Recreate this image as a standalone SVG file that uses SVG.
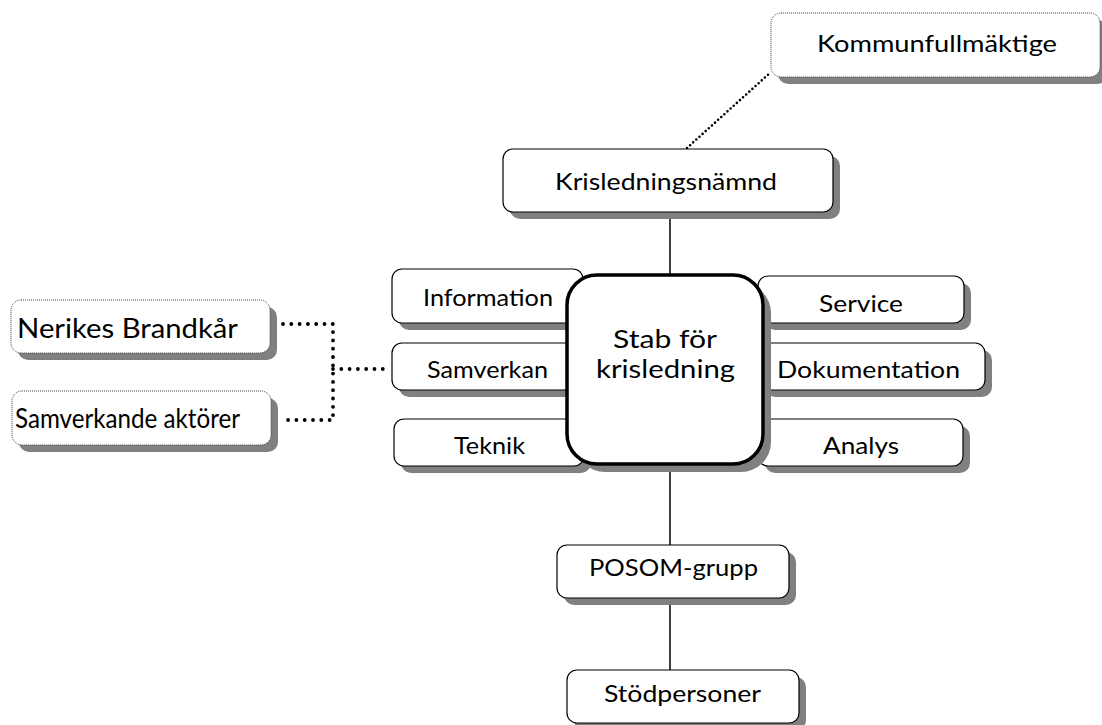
<svg xmlns="http://www.w3.org/2000/svg" width="1102" height="725" viewBox="0 0 1102 725">
<style>
.box{fill:#fff;stroke:#000;stroke-width:1.2}
.dbox{fill:#fff;stroke:#444;stroke-width:1;stroke-dasharray:1 1}
.sh{fill:#808080}
.big{fill:#fff;stroke:#000;stroke-width:3.5}
.t{font-family:Lato,"Open Sans",sans-serif;font-size:24px;fill:#000;text-anchor:middle}
.tb{font-family:Lato,"Open Sans",sans-serif;font-size:27px;fill:#000;text-anchor:middle}
.ts{font-family:Lato,"Open Sans",sans-serif;font-size:25px;fill:#000;text-anchor:middle}
.solid{stroke:#000;stroke-width:1.5;fill:none}
.dots{stroke:#000;stroke-width:3.8;fill:none;stroke-linecap:round;stroke-dasharray:0 8.3}
.fdots{stroke:#000;stroke-width:2.6;fill:none;stroke-linecap:round;stroke-dasharray:0 4.2}
</style>
<rect width="1102" height="725" fill="#fff"/>
<g id="connectors">
<line class="solid" x1="670" y1="212" x2="670" y2="276"/>
<line class="solid" x1="670" y1="463" x2="670" y2="545"/>
<line class="solid" x1="670" y1="598" x2="670" y2="670"/>
<line class="fdots" x1="687" y1="148" x2="771" y2="72"/>
<polyline class="dots" points="283,324 333,324 333,420 283,420"/>
<line class="dots" x1="333" y1="369" x2="391" y2="369"/>
</g>
<g id="kommunfullmaktige">
<rect class="sh" x="778" y="20" width="329" height="64" rx="10"/>
<rect class="dbox" x="771" y="13" width="329" height="64" rx="10"/>
<text class="t" x="937" y="52" textLength="240" lengthAdjust="spacingAndGlyphs">Kommunfullmäktige</text>
</g>
<g id="krisledningsnamnd">
<rect class="sh" x="510" y="156" width="330" height="63" rx="10"/>
<rect class="box" x="503" y="149" width="330" height="63" rx="10"/>
<text class="t" x="666" y="190" textLength="222" lengthAdjust="spacingAndGlyphs">Krisledningsnämnd</text>
</g>
<g id="nerikes">
<rect class="sh" x="18" y="307" width="259" height="53" rx="10"/>
<rect class="dbox" x="11" y="300" width="259" height="53" rx="10"/>
<text class="tb" x="127.5" y="338" textLength="221" lengthAdjust="spacingAndGlyphs">Nerikes Brandkår</text>
</g>
<g id="samverkande">
<rect class="sh" x="19" y="398" width="259" height="54" rx="10"/>
<rect class="dbox" x="12" y="391" width="259" height="54" rx="10"/>
<text class="tb" x="127.5" y="428" textLength="225" lengthAdjust="spacingAndGlyphs">Samverkande aktörer</text>
</g>
<g id="information">
<rect class="sh" x="399" y="276" width="191" height="54" rx="10"/>
<rect class="box" x="392" y="269" width="191" height="54" rx="10"/>
<text class="t" x="488" y="306" textLength="130" lengthAdjust="spacingAndGlyphs">Information</text>
</g>
<g id="samverkan">
<rect class="sh" x="399" y="350" width="190" height="47" rx="10"/>
<rect class="box" x="392" y="343" width="190" height="47" rx="10"/>
<text class="t" x="487.5" y="378" textLength="121" lengthAdjust="spacingAndGlyphs">Samverkan</text>
</g>
<g id="teknik">
<rect class="sh" x="401" y="426" width="190" height="47" rx="10"/>
<rect class="box" x="394" y="419" width="190" height="47" rx="10"/>
<text class="t" x="489.5" y="454" textLength="71" lengthAdjust="spacingAndGlyphs">Teknik</text>
</g>
<g id="service">
<rect class="sh" x="765" y="283" width="206" height="47" rx="10"/>
<rect class="box" x="758" y="276" width="206" height="47" rx="10"/>
<text class="t" x="861" y="312" textLength="84" lengthAdjust="spacingAndGlyphs">Service</text>
</g>
<g id="dokumentation">
<rect class="sh" x="765" y="350" width="227" height="47" rx="10"/>
<rect class="box" x="758" y="343" width="227" height="47" rx="10"/>
<text class="t" x="868.5" y="378" textLength="183" lengthAdjust="spacingAndGlyphs">Dokumentation</text>
</g>
<g id="analys">
<rect class="sh" x="765" y="426" width="205" height="47" rx="10"/>
<rect class="box" x="758" y="419" width="205" height="47" rx="10"/>
<text class="t" x="861" y="454" textLength="76" lengthAdjust="spacingAndGlyphs">Analys</text>
</g>
<g id="stab">
<rect class="sh" x="575" y="283" width="196" height="189" rx="30"/>
<rect class="big" x="567" y="275" width="196" height="189" rx="30"/>
<text class="ts" x="665" y="348" textLength="104" lengthAdjust="spacingAndGlyphs">Stab för</text>
<text class="ts" x="665.5" y="378" textLength="139" lengthAdjust="spacingAndGlyphs">krisledning</text>
</g>
<g id="posom">
<rect class="sh" x="564" y="552" width="232" height="53" rx="10"/>
<rect class="box" x="557" y="545" width="232" height="53" rx="10"/>
<text class="t" x="673.5" y="576" textLength="169" lengthAdjust="spacingAndGlyphs">POSOM-grupp</text>
</g>
<g id="stodpersoner">
<rect class="sh" x="574" y="677" width="232" height="53" rx="10"/>
<rect class="box" x="567" y="670" width="232" height="53" rx="10"/>
<text class="t" x="682.5" y="702" textLength="157" lengthAdjust="spacingAndGlyphs">Stödpersoner</text>
</g>
</svg>
